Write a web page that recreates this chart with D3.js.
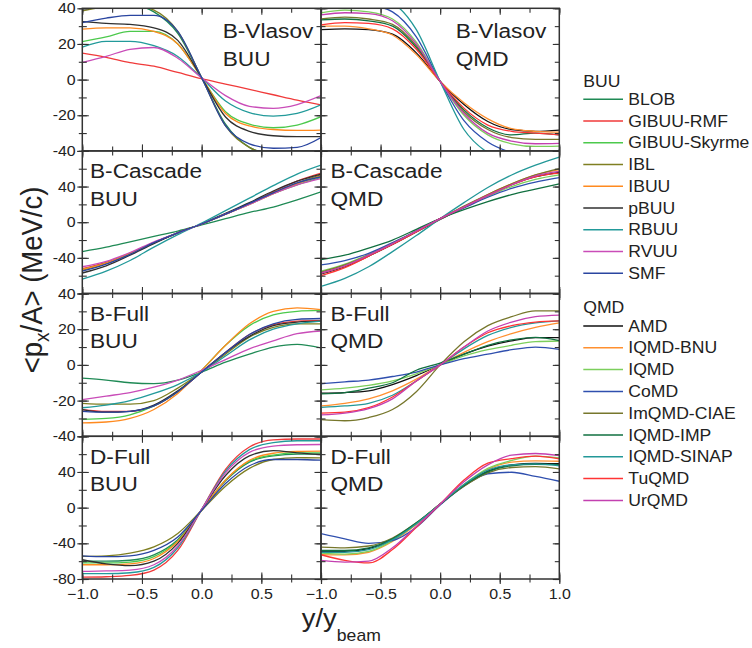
<!DOCTYPE html>
<html>
<head>
<meta charset="utf-8">
<script src="https://cdn.jsdelivr.net/npm/d3@7"></script>
<style>
  body { margin: 0; background: #fff; }
  text { font-family: "Liberation Sans", Arial, sans-serif; fill: #222; }
</style>
</head>
<body>
<svg id="chart" width="752" height="648"></svg>
<script>
// ---------------------------------------------
// data (<px/A> vs y/ybeam)
// ---------------------------------------------

var rapidity = [-1, -0.8, -0.6, -0.4, -0.2, 0, 0.2, 0.4, 0.6, 0.8, 1];

var buuModels = ["BLOB", "GIBUU-RMF", "GIBUU-Skyrme", "IBL", "IBUU", "pBUU", "RBUU", "RVUU", "SMF"];
var buuColors = ["#1f8a55", "#f03a3a", "#4cc94c", "#7f7f22", "#ff8a1f", "#303030", "#229a9a", "#c94cb8", "#2a45a0"];

var qmdModels = ["AMD", "IQMD-BNU", "IQMD", "CoMD", "ImQMD-CIAE", "IQMD-IMP", "IQMD-SINAP", "TuQMD", "UrQMD"];
var qmdColors = ["#111111", "#ff9030", "#7ccf5c", "#2f4fae", "#77772c", "#117040", "#239898", "#ff3434", "#c340b0"];

var panelTitles = ["B-Vlasov", "B-Cascade", "B-Full", "D-Full"];
var yDomains = [[-40, 40], [-80, 80], [-40, 40], [-80, 80]];
var yTickLabels = [[40, 20, 0, -20, -40], [40, 0, -40], [40, 20, 0, -20, -40], [40, 0, -40, -80]];
var xTickLabelsLeft = [-1, -0.5, 0, 0.5];
var xTickLabelsRight = [-1, -0.5, 0, 0.5, 1];

// rows: one array per model, in legend order, values at the rapidity points
var bVlasovBuu = [
  [40, 42, 42, 38, 26, 1, -25, -38, -42, -43, -42],
  [14.8, 12.5, 9.5, 7.5, 4, 0.5, -2.5, -5.5, -8.5, -11.5, -14.2],
  [21.3, 24, 27, 27, 20, 1, -18, -25, -27, -25.5, -20.8],
  [38.5, 41, 42, 39, 27, 1, -26, -38, -42, -43, -43],
  [28.3, 29, 29, 27, 20, 1, -19, -26, -28, -28.5, -28.3],
  [32.5, 31.5, 31, 29, 22, 1, -21, -29, -31.5, -32, -32],
  [18.2, 21.5, 21.5, 19, 13, 1, -12, -18.5, -20.5, -19, -14.2],
  [9.6, 13, 17, 18, 12, 1, -9, -15, -16.1, -14, -9],
  [32, 34.5, 36, 36, 27, 1, -26, -36, -38.5, -38, -32.5]
];
var bVlasovQmd = [
  [28, 28.5, 28, 25.5, 15, -1, -14, -23.5, -28, -29, -28.3],
  [30, 30, 28.5, 25, 14, -1, -13, -22, -27.5, -29, -29.5],
  [37.4, 39, 38, 34, 21, -1, -20, -31, -36, -37.5, -37.3],
  [41, 43, 42, 38, 24, -1, -23, -35, -41, -44, -44],
  [34, 35, 34, 31, 19, -1, -18, -28, -32.5, -33.5, -33.5],
  [33.5, 34, 33, 30, 18, -1, -17, -27, -31, -30, -31],
  [46, 48, 47, 43, 28, -1, -28, -41, -46, -44, -39.5],
  [30.7, 32, 31.5, 28.5, 17, -1, -16, -25.5, -29, -30, -31],
  [36.3, 37.5, 37, 33, 20, -1, -19, -30, -34.5, -36, -35.8]
];
var bCascadeBuu = [
  [-33, -28, -22, -16, -10, -3, 4, 11, 17, 25, 34],
  [-52, -45, -35, -23, -12, -2, 9, 21, 34, 46, 55],
  [-53, -46, -35, -23, -12, -2, 9, 20, 32, 42, 50],
  [-54, -46, -35, -23, -12, -2, 9, 21, 33, 44, 53],
  [-53, -46, -35, -23, -12, -2, 9, 20, 32, 43, 52],
  [-57, -49, -37, -24, -12, -2, 10, 22, 35, 46, 54],
  [-64, -55, -43, -28, -14, -1, 13, 27, 41, 54, 64],
  [-50, -44, -34, -22, -12, -2, 9, 20, 32, 42, 49],
  [-55, -47, -36, -23, -12, -2, 9, 21, 33, 44, 51]
];
var bCascadeQmd = [
  [-58, -50, -38, -25, -11, 3, 17, 30, 42, 51, 56],
  [-57, -49, -37, -24, -10, 4, 17, 31, 43, 53, 59],
  [-55, -47, -36, -24, -10, 4, 17, 29, 40, 48, 53],
  [-48, -43, -35, -23, -10, 4, 16, 28, 38, 45, 50],
  [-56, -48, -37, -24, -10, 4, 18, 31, 43, 53, 60],
  [-42, -37, -29, -20, -8, 4, 14, 23, 31, 37, 43],
  [-72, -63, -50, -33, -15, 4, 22, 39, 53, 64, 73],
  [-60, -51, -38, -25, -11, 4, 17, 30, 42, 51, 55],
  [-57, -49, -37, -24, -10, 4, 17, 30, 42, 52, 57]
];
var bFullBuu = [
  [-7.4, -8.5, -10, -10.5, -8.5, -4, 1.5, 6, 10, 11.5, 9.5],
  [-25, -26, -26, -23, -15, -4, 7, 17, 22.5, 24.5, 25],
  [-30.5, -30, -28, -23, -15, -3, 11, 22, 28, 30, 30.5],
  [-21.5, -22, -22, -20, -13, -4, 6, 15.5, 21, 23, 23],
  [-32.5, -32, -30, -25, -16, -3, 11, 23, 30, 32, 31],
  [-25, -26.5, -26, -22.5, -14.5, -4, 7, 16, 22, 24, 24.5],
  [-24, -22.5, -20, -16, -11, -4, 5, 14, 20, 23, 24.5],
  [-19.5, -17.5, -15.5, -12.5, -8.5, -3, 3, 9, 13.5, 17.5, 19],
  [-26, -26.5, -26, -23, -15, -4, 7, 17, 23, 25.5, 26]
];
var bFullQmd = [
  [-15.8, -15.5, -14.5, -11, -6, 0, 6, 10.5, 13.5, 15.3, 15.3],
  [-23, -21.5, -19, -14.5, -8, 0, 7, 13, 17.5, 21, 23.5],
  [-14, -13, -11.5, -9, -5, 0, 5, 8.5, 11, 13, 13.4],
  [-10.6, -9.5, -8.5, -6.5, -4, 0, 3.5, 6, 8.5, 10, 8.7],
  [-30.7, -31.3, -29.5, -25, -15, 0, 13, 22, 27, 30.3, 30.3],
  [-16.2, -15.5, -13, -10, -3, 1, 6, 11, 14, 15.4, 13.6],
  [-23.8, -23, -21.5, -17, -9, 0, 9, 16.5, 21, 23.5, 24.7],
  [-27, -26.5, -24, -18, -9, 0, 10, 18, 22, 24, 24.7],
  [-28, -27, -24.5, -19, -9, 0, 10, 19, 24, 27, 27.9]
];
var dFullBuu = [
  [-60, -60, -59, -53, -36, -3, 30, 51, 58, 60, 60],
  [-78, -77.5, -76, -70, -48, -2, 43, 68, 76, 77, 77],
  [-62, -62, -61, -55, -37, -3, 31, 52, 59, 61.5, 61.4],
  [-54.7, -54, -51, -44, -29, -3, 24, 44, 54, 56, 55.8],
  [-64, -64, -63, -57, -38, -3, 31, 53, 61, 63, 63.3],
  [-58.4, -63, -65, -60, -40, -2, 36, 58, 64, 61.5, 59.6],
  [-74, -74, -73, -67, -45, -2, 41, 65, 73, 75, 75],
  [-71.5, -71, -70, -64, -43, -2, 39, 62, 69, 70.5, 70.8],
  [-54, -55, -54, -48, -33, -3, 27, 47, 54, 54, 53.2]
];
var dFullQmd = [
  [-49, -49, -46, -36, -18, 4, 25, 41, 48, 49.5, 49.4],
  [-52.8, -53, -50, -38, -19, 4, 26, 43, 51, 52.5, 52],
  [-51, -52, -49, -37, -18, 4, 26, 44, 53, 57.7, 55.8],
  [-29.2, -35, -40, -37, -22, 3, 24, 38, 39.7, 35, 29.6],
  [-44.2, -45, -43, -34, -17, 4, 24, 39, 45, 46, 43.4],
  [-48, -48, -45, -35, -17, 4, 25, 40, 47, 48.5, 48.3],
  [-50, -50, -47, -36, -18, 4, 26, 42, 48, 49, 47],
  [-52.8, -59, -62, -47, -22, 4, 31, 50, 55, 57.7, 54.7],
  [-59.2, -61, -60, -45, -21, 4, 29, 48, 59, 60.7, 58.4]
];

var panelData = [[bVlasovBuu, bVlasovQmd], [bCascadeBuu, bCascadeQmd], [bFullBuu, bFullQmd], [dFullBuu, dFullQmd]];

// ---------------------------------------------
// layout
// ---------------------------------------------

var colEdges = [[82.3, 321], [321, 559.3]];
var rowEdges = [8.3, 150.9, 293.5, 436.3, 579];
var textScale = 1.1;   // the figure is a bit wider than tall
var axisColor = "#333";

var svg = d3.select("#chart");
var defs = svg.append("defs");

function stretch(sel) {
  sel.attr("transform", function() {
    var t = d3.select(this).attr("transform");
    return (t ? t + " " : "") + "scale(" + textScale + ",1)";
  });
}

function addText(x, y, str, size, anchor) {
  return svg.append("text")
    .attr("transform", "translate(" + x + "," + y + ") scale(" + textScale + ",1)")
    .attr("text-anchor", anchor || "start")
    .style("font-size", size + "px")
    .text(str);
}

function fmt(v) { return d3.format(".1f")(v); }

for (var r = 0; r < 4; r++) {
  for (var c = 0; c < 2; c++) {
    var x0 = colEdges[c][0], x1 = colEdges[c][1];
    var y0 = rowEdges[r], y1 = rowEdges[r + 1];

    var x = d3.scaleLinear().domain([-1, 1]).range([x0, x1]);
    var y = d3.scaleLinear().domain(yDomains[r]).range([y1, y0]);

    var clipId = "clip" + r + c;
    defs.append("clipPath").attr("id", clipId)
      .append("rect").attr("x", x0).attr("y", y0).attr("width", x1 - x0).attr("height", y1 - y0);

    var g = svg.append("g");

    // curves
    var colors = c === 0 ? buuColors : qmdColors;
    var line = d3.line()
      .x(function(d, i) { return x(rapidity[i]); })
      .y(function(d) { return y(d); })
      .curve(d3.curveMonotoneX);

    g.append("g").attr("clip-path", "url(#" + clipId + ")")
      .selectAll("path").data(panelData[r][c]).enter()
      .append("path")
      .attr("d", line)
      .attr("fill", "none")
      .attr("stroke", function(d, i) { return colors[i]; })
      .attr("stroke-width", 1.3);

    // ticks
    var span = yDomains[r][1];
    var yMajor = d3.range(-span, span + 0.1, span / 2);
    var yMinor = d3.range(-span, span + 0.1, span / 4);
    var xMajor = [-1, -0.5, 0, 0.5, 1];
    var xMinor = [-1, -0.75, -0.5, -0.25, 0, 0.25, 0.5, 0.75, 1];

    var isLeft = c === 0, isBottom = r === 3;

    function tickAxis(axisFn, scale, vals, len, pos, labels, pad) {
      var ax = axisFn(scale).tickValues(vals).tickSizeInner(len).tickSizeOuter(0).tickPadding(pad || 6);
      if (labels) {
        ax.tickFormat(function(v) { return labels.indexOf(v) >= 0 ? (axisFn === d3.axisLeft ? v : fmt(v)) : ""; });
      } else {
        ax.tickFormat("");
      }
      var a = g.append("g").attr("transform", pos).call(ax);
      a.select(".domain").remove();
      a.selectAll("line").attr("stroke", axisColor).attr("stroke-width", 1.1);
      a.selectAll("text").style("font-size", "14.5px").attr("fill", "#222").call(stretch);
      return a;
    }

    // left / right (inward)
    tickAxis(d3.axisLeft, y, yMinor, -4.5, "translate(" + x0 + ",0)", null);
    tickAxis(d3.axisLeft, y, yMajor, -6.5, "translate(" + x0 + ",0)", isLeft ? yTickLabels[r] : null, 6);
    tickAxis(d3.axisRight, y, yMinor, -4.5, "translate(" + x1 + ",0)", null);
    tickAxis(d3.axisRight, y, yMajor, -6.5, "translate(" + x1 + ",0)", null);
    // top / bottom (inward)
    tickAxis(d3.axisTop, x, xMinor, -4.5, "translate(0," + y0 + ")", null);
    tickAxis(d3.axisTop, x, xMajor, -6.5, "translate(0," + y0 + ")", null);
    tickAxis(d3.axisBottom, x, xMinor, -4.5, "translate(0," + y1 + ")", null);
    tickAxis(d3.axisBottom, x, xMajor, -6.5, "translate(0," + y1 + ")",
      isBottom ? (c === 0 ? xTickLabelsLeft : xTickLabelsRight) : null, 9.5);

    // outer ticks also stick out
    if (isLeft) {
      tickAxis(d3.axisLeft, y, yMinor, 3.5, "translate(" + x0 + ",0)", null);
      tickAxis(d3.axisLeft, y, yMajor, 5, "translate(" + x0 + ",0)", null);
    }
    if (isBottom) {
      tickAxis(d3.axisBottom, x, xMinor, 3.5, "translate(0," + y1 + ")", null);
      tickAxis(d3.axisBottom, x, xMajor, 5, "translate(0," + y1 + ")", null);
    }

    // frame
    g.append("rect")
      .attr("x", x0).attr("y", y0).attr("width", x1 - x0).attr("height", y1 - y0)
      .attr("fill", "none").attr("stroke", axisColor).attr("stroke-width", 1.5);

    // panel title
    var tx = r === 0 ? (c === 0 ? 222.7 : 455.7) : (c === 0 ? 90 : 330.5);
    var ty = r === 0 ? y0 + 30 : y0 + 27.5;
    addText(tx, ty, panelTitles[r], 20.6);
    addText(tx, ty + 27.3, c === 0 ? "BUU" : "QMD", 20.6);
  }
}

// ---------------------------------------------
// legend
// ---------------------------------------------

function drawLegend(title, titleY, firstY, step, names, colors) {
  addText(583.3, titleY, title, 16);
  names.forEach(function(n, i) {
    var cy = firstY + i * step;
    svg.append("line")
      .attr("x1", 583.3).attr("x2", 623).attr("y1", cy).attr("y2", cy)
      .attr("stroke", colors[i]).attr("stroke-width", 1.5);
    addText(628.3, cy + 5.6, n, 16);
  });
}
drawLegend("BUU", 87.3, 99.3, 21.75, buuModels, buuColors);
drawLegend("QMD", 313.3, 326, 21.8, qmdModels, qmdColors);

// ---------------------------------------------
// axis titles
// ---------------------------------------------

var yTitle = svg.append("text")
  .attr("transform", "translate(41.5,280) rotate(-90) scale(1," + textScale + ")")
  .attr("text-anchor", "middle")
  .style("font-size", "27.5px");
yTitle.append("tspan").text("<p");
yTitle.append("tspan").attr("dy", 7).style("font-size", "19px").text("x");
yTitle.append("tspan").attr("dy", -7).text("/A> (MeV/c)");

var xTitle = svg.append("text")
  .attr("transform", "translate(301.7,626.7) scale(" + textScale + ",1)")
  .style("font-size", "25px");
xTitle.append("tspan").text("y/y");
xTitle.append("tspan").attr("dy", 14).style("font-size", "16px").text("beam");
</script>
</body>
</html>
